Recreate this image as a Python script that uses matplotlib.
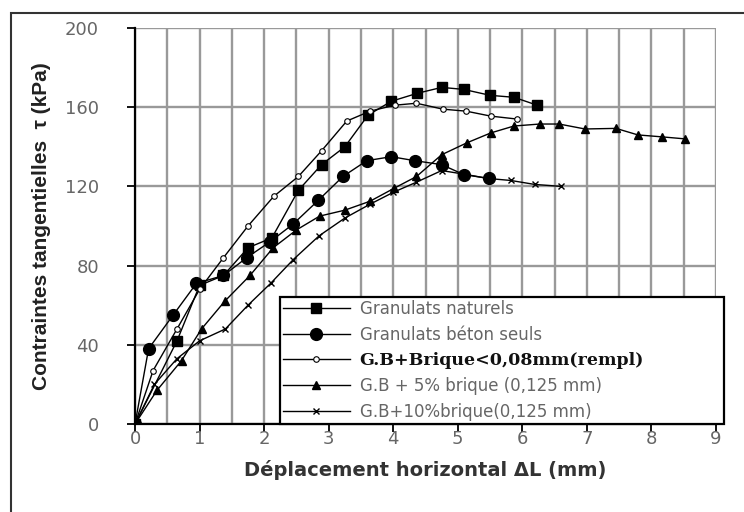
import matplotlib
matplotlib.use("Agg")
import matplotlib.pyplot as plt
from matplotlib.patches import Rectangle

plt.rcParams['font.family'] = ['DejaVu Sans']

# Granulats naturels
x_gn = [0, 0.65, 1.0, 1.37, 1.75, 2.12, 2.53, 2.89, 3.25, 3.61, 3.97, 4.37, 4.75, 5.09, 5.5, 5.87, 6.23]
y_gn = [0, 42, 70, 75, 89, 94, 118, 131, 140, 156, 163, 167, 170, 169, 166, 165, 161]

# Granulats béton seuls
x_gb = [0, 0.21, 0.59, 0.95, 1.37, 1.73, 2.09, 2.45, 2.84, 3.22, 3.59, 3.97, 4.33, 4.75, 5.09, 5.48]
y_gb = [0, 38, 55, 71, 75, 84, 92, 101, 113, 125, 133, 135, 133, 131, 126, 124]

# G.B + brique < 0,08 mm
x_gr = [0, 0.28, 0.65, 1.0, 1.37, 1.75, 2.15, 2.53, 2.89, 3.28, 3.64, 4.02, 4.36, 4.77, 5.13, 5.51, 5.92]
y_gr = [0, 27, 48, 68, 84, 100, 115, 125, 138, 153, 158, 161, 162, 159, 158, 155.5, 154]

# G.B + 5% brique
x_b5 = [0, 0.34, 0.72, 1.03, 1.39, 1.78, 2.14, 2.5, 2.86, 3.25, 3.64, 4.01, 4.36, 4.75, 5.14, 5.51,
        5.87, 6.27, 6.57, 6.97, 7.45, 7.79, 8.17, 8.52]
y_b5 = [0, 17, 32, 48, 62, 75, 89, 98, 105, 108, 112.5, 119, 125, 136, 142, 147,
        150.5, 151.5, 151.5, 149, 149.3, 146, 145, 144]

# G.B + 10% brique
x_b10 = [0, 0.3, 0.65, 1.0, 1.4, 1.75, 2.1, 2.45, 2.85, 3.25, 3.64, 4.0, 4.35, 4.75, 5.13, 5.47, 5.82, 6.19, 6.6]
y_b10 = [0, 20, 33, 42, 48, 60, 71, 83, 95, 104, 111, 117, 122, 128, 126, 124, 123, 121, 120]

labels = ["Granulats naturels", "Granulats béton seuls", "G.B+Brique<0,08mm(rempl)",
          "G.B + 5% brique (0,125 mm)", "G.B+10%brique(0,125 mm)"]

fig = plt.figure(figsize=(7.44, 5.12), dpi=100)
ax = fig.add_axes([0.1815, 0.1719, 0.7809, 0.7734])

# cadre autour de la figure
fig.patches.append(Rectangle((0.015, -0.05), 1.1, 1.025, transform=fig.transFigure,
                             fill=False, ec="#333333", lw=1.5))

ax.plot(x_gn, y_gn, c="k", lw=1, marker="s", ms=7, label=labels[0])
ax.plot(x_gb, y_gb, c="k", lw=1, marker="o", ms=8.5, label=labels[1])
ax.plot(x_gr, y_gr, c="k", lw=1, marker="o", ms=4, mfc="white", mew=0.8, label=labels[2])
ax.plot(x_b5, y_b5, c="k", lw=1, marker="^", ms=6, label=labels[3])
ax.plot(x_b10, y_b10, c="k", lw=1, marker="x", ms=4.5, mew=1, label=labels[4])

ax.set_xlim(0, 9)
ax.set_ylim(0, 200)
ax.set_xticks(range(0, 10))
ax.set_xticks([i + 0.5 for i in range(9)], minor=True)
ax.set_yticks([0, 40, 80, 120, 160, 200])
ax.grid(True, which="both", axis="x", color="#999999", lw=1.7)
ax.grid(True, which="major", axis="y", color="#999999", lw=1.7)
ax.set_axisbelow(True)

for s in ["top", "right"]:
    ax.spines[s].set_visible(False)
ax.spines["left"].set_linewidth(1.6)
ax.spines["bottom"].set_linewidth(1.6)
ax.tick_params(axis="both", which="major", direction="out", length=6, width=1.3,
               labelsize=13, labelcolor="#666666")
ax.tick_params(axis="x", which="minor", length=0)
ax.tick_params(axis="x", pad=-2)
ax.tick_params(axis="y", pad=20)

ax.set_xlabel("Déplacement horizontal ΔL (mm)", fontsize=14, fontweight="bold",
              color="#333333", labelpad=9)
ax.set_ylabel("Contraintes tangentielles  τ (kPa)", fontsize=15, fontweight="bold",
              family="Liberation Sans", color="#222222", labelpad=10)

leg = ax.legend(loc="lower left", bbox_to_anchor=(0.249, 0.0, 0.764, 0.33), mode="expand",
                fontsize=12, frameon=True, fancybox=False, framealpha=1, edgecolor="black",
                handlelength=4.0, handletextpad=0.6, borderpad=0.2, labelspacing=0.47,
                borderaxespad=0)
leg.get_frame().set_linewidth(1.6)
for i, t in enumerate(leg.get_texts()):
    t.set_color("#666666")
    if i == 2:
        t.set_family("DejaVu Serif")
        t.set_fontweight("bold")
        t.set_color("#111111")
        t.set_fontsize(12.5)

fig.savefig("out.png", dpi=100)
